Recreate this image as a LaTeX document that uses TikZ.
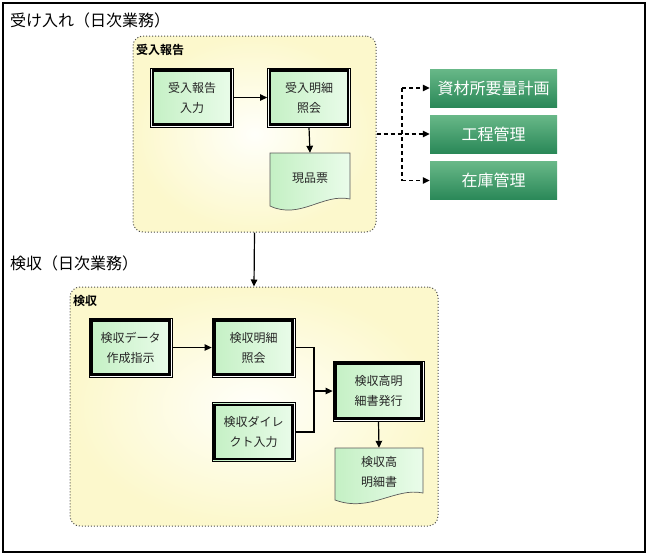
\documentclass[tikz,border=0pt]{standalone}
\usepackage{fontspec}
\setmainfont{Noto Sans CJK JP}[BoldFont={Noto Sans CJK JP Bold}]
\usetikzlibrary{arrows.meta,calc}
\definecolor{pgl}{RGB}{196,240,196}
\definecolor{pgr}{RGB}{234,252,234}
\definecolor{sgt}{RGB}{104,184,136}
\definecolor{sgb}{RGB}{42,136,88}
\definecolor{gyo}{RGB}{252,248,204}
\definecolor{gyi}{RGB}{255,255,250}
\begin{document}
\begin{tikzpicture}[x=1pt,y=-1pt,
  procbox/.style={draw=black, line width=0.8pt, fill=white, inner sep=0pt,
    minimum width=83pt, minimum height=59pt, align=center,
    font=\fontsize{12}{20}\selectfont, text=black!85,
    path picture={
      \shade[left color=pgl,right color=pgr]
        ([shift={(1.4pt,1.4pt)}]path picture bounding box.south west) rectangle
        ([shift={(-1.4pt,-1.4pt)}]path picture bounding box.north east);
      \draw[line width=2.4pt]
        ([shift={(2.6pt,2.6pt)}]path picture bounding box.south west) rectangle
        ([shift={(-2.6pt,-2.6pt)}]path picture bounding box.north east);}},
  docshape/.style={draw=black!65, line width=0.7pt, left color=pgl, right color=pgr},
  doctext/.style={inner sep=0pt, align=center, font=\fontsize{12}{20}\selectfont, text=black!85},
  sysbox/.style={top color=sgt, bottom color=sgb, inner sep=0pt,
    minimum width=127pt, minimum height=38pt, text=white,
    font=\fontsize{16}{16}\selectfont},
  grp/.style={draw=black!70, dotted, line width=1pt, rounded corners=10pt,
    inner color=gyi, outer color=gyo, inner sep=0pt},
  glabel/.style={anchor=west, inner sep=0pt, font=\bfseries\fontsize{12}{12}\selectfont},
  title/.style={anchor=west, inner sep=0pt, font=\fontsize{16}{16}\selectfont},
  arr/.style={-{Triangle[length=7pt,width=6.5pt]}, line width=1.2pt},
  darr/.style={-{Triangle[length=7pt,width=6.5pt]}, line width=1.2pt, dash pattern=on 4pt off 3pt},
]
\useasboundingbox (0,0) rectangle (650,555);
\fill[white] (0,0) rectangle (650,555);
\draw[line width=1.2pt] (3,3) rectangle (645,552);

% titles
\node[title] (t1) at (10,20) {受け入れ（日次業務）};
\node[title] (t2) at (10,263) {検収（日次業務）};

% groups
\node[grp, minimum width=243pt, minimum height=196pt] (g1) at (254.5,134) {};
\node[glabel] (g1l) at (136,50) {受入報告};
\node[grp, minimum width=368pt, minimum height=239pt] (g2) at (254,406.5) {};
\node[glabel] (g2l) at (73,301) {検収};

% group 1 content
\node[procbox] (n1) at (192,97.5) {受入報告\\入力};
\node[procbox] (n2) at (309,97.5) {受入明細\\照会};
\path[docshape] (270,153) -- (350,153) -- (350,199)
  .. controls (323,193) and (300,220) .. (270,206) -- cycle;
\node[doctext, minimum width=80pt, minimum height=50pt] (d1) at (310,178) {現品票};

% system boxes
\node[sysbox] (s1) at (493.5,88) {資材所要量計画};
\node[sysbox] (s2) at (493.5,134) {工程管理};
\node[sysbox] (s3) at (493.5,180.5) {在庫管理};

% group 2 content
\node[procbox] (a) at (130.5,347.5) {検収データ\\作成指示};
\node[procbox] (b) at (253.5,347.5) {検収明細\\照会};
\node[procbox] (c) at (253.5,432) {検収ダイレ\\クト入力};
\node[procbox, minimum width=91pt, minimum height=60pt] (d) at (378.5,391) {検収高明\\細書発行};
\path[docshape] (335,448) -- (423,448) -- (423,493)
  .. controls (395,487) and (370,513) .. (335,500) -- cycle;
\node[doctext, minimum width=88pt, minimum height=48pt] (e) at (379,472) {検収高\\明細書};

% connectors
\draw[arr] (n1.east) -- (n2.west);
\draw[arr] (n2.south) -- (d1.north);
\draw[arr] (g1.south) -- (g2.north);

\coordinate (tv1) at (402,88);
\coordinate (tv3) at (402,180.5);
\draw[line width=1.2pt, dash pattern=on 4pt off 3pt] (tv1) -- (tv3);
\draw[darr] (g1.east) -- (s2.west);
\draw[darr] (tv1) -- (s1.west);
\draw[darr] (tv3) -- (s3.west);

\draw[arr] (a.east) -- (b.west);
\coordinate (j) at (314,391);
\draw[line width=1.2pt] (c.east) -| (j);
\draw[arr] (b.east) -| (j) -- (d.west);
\draw[arr] (d.south) -- (e.north);
\end{tikzpicture}
\end{document}
